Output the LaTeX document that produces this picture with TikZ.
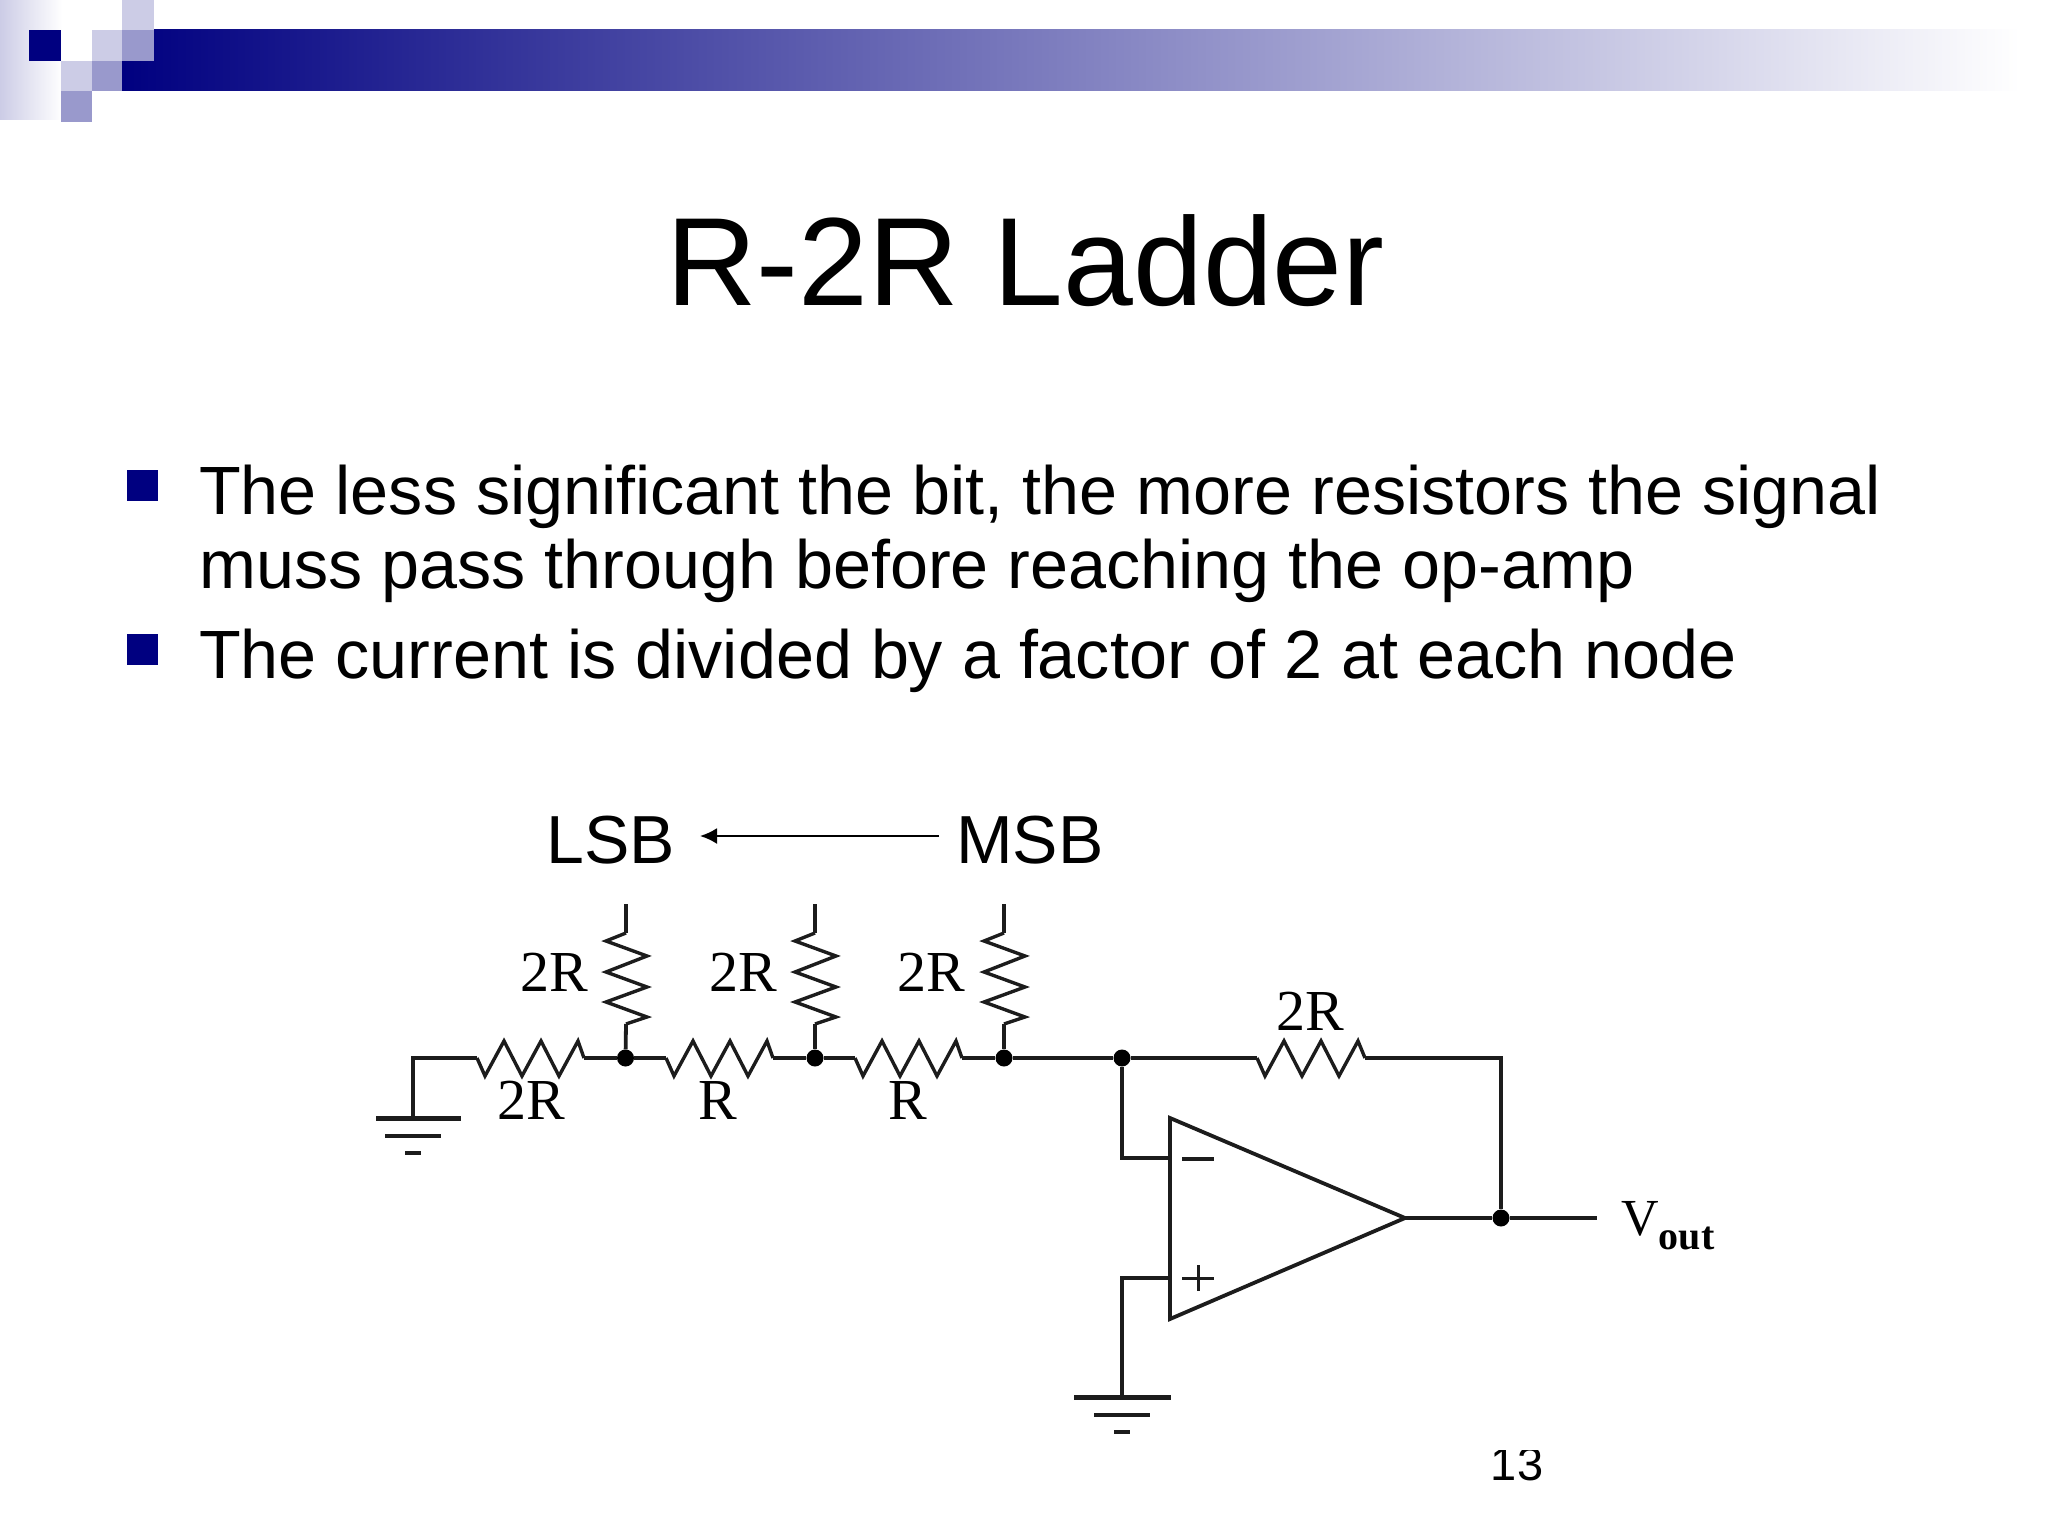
\documentclass[tikz,border=0pt]{standalone}
\usepackage{fontspec}
\setmainfont{Liberation Sans}
\newfontfamily\circfont{Liberation Serif}
\usetikzlibrary{arrows.meta}
\definecolor{navyb}{HTML}{000080}
\definecolor{lightb}{HTML}{CCCCE6}
\definecolor{midb}{HTML}{9999CC}
\definecolor{ink}{HTML}{1C1C1C}
\newcommand{\fsz}[1]{\fontsize{#1}{#1}\selectfont}
\tikzset{
 x=1pt,y=-1pt,
 wire/.style={draw=ink,line width=3.8pt,line join=miter},
 zig/.style={draw=ink,line width=3.4pt,line join=miter},
 junction/.style={circle,fill=black,inner sep=0pt,minimum size=17pt},
 titletext/.style={anchor=base,inner sep=0pt,font=\fsz{125.5}},
 bodytext/.style={anchor=base west,inner sep=0pt,font=\fsz{68.3}},
 tagtext/.style={anchor=base,inner sep=0pt,font=\fsz{68}},
 circlabel/.style={anchor=base,inner sep=0pt,font=\circfont\fsz{58}},
 bulletbox/.style={fill=navyb,inner sep=0pt,minimum size=31pt},
}
\newcommand{\hres}[2]{\draw[zig] (#1) -- ++(8,18) -- ++(19,-35) -- ++(18,35) -- ++(19,-35) -- ++(18,35) -- ++(19,-35) -- (#2);}
\newcommand{\vres}[2]{\draw[zig] (#1) -- ++(-20,8) -- ++(41,15) -- ++(-41,16) -- ++(41,15) -- ++(-41,15) -- ++(41,15) -- (#2);}
\newcommand{\gnd}[5]{% centre, left and right half widths of the bars
 \draw[draw=ink,line width=5pt] ([xshift=-#2pt]#1) -- ([xshift=#3pt]#1);
 \draw[draw=ink,line width=3.6pt] ([xshift=-#4pt,yshift=-18pt]#1) -- ([xshift=#4pt,yshift=-18pt]#1);
 \draw[draw=ink,line width=3.6pt] ([xshift=-#5pt,yshift=-35pt]#1) -- ([xshift=#5pt,yshift=-35pt]#1);}
\begin{document}
\begin{tikzpicture}
\useasboundingbox (0,0) rectangle (2048,1536);
\fill[white] (0,0) rectangle (2048,1536);
% header
\shade[left color=lightb,right color=white] (0,0) rectangle (62,120);
\shade[left color=navyb,right color=white] (122,30) rectangle (2020,91);
\fill[navyb] (29,30) rectangle (61,61);
\fill[lightb] (122,0) rectangle (154,30);
\fill[lightb] (92,30) rectangle (122,61);
\fill[midb] (122,30) rectangle (154,61);
\fill[lightb] (61,61) rectangle (92,91);
\fill[midb] (92,61) rectangle (122,91);
\fill[midb] (61,91) rectangle (92,122);
% title
\node[titletext] (title) at (1025.5,305) {R-2R Ladder};
% bullets
\node[bulletbox] (b1) at (142.5,485) {};
\node[bulletbox] (b2) at (142.5,649) {};
\node[bodytext] (l1) at (199,514) {The less significant the bit, the more resistors the signal};
\node[bodytext] (l2) at (199,588) {muss pass through before reaching the op-amp};
\node[bodytext] (l3) at (199,678) {The current is divided by a factor of 2 at each node};
% LSB MSB
\node[tagtext] (lsb) at (610.5,863) {LSB};
\node[tagtext] (msb) at (1030,863) {MSB};
\coordinate (arS) at (939,836);
\coordinate (arE) at (700,836);
\draw[draw=black,line width=2.2pt,-{Latex[length=17pt,width=16pt]}] (arS) -- (arE);
% junctions and wire points
\coordinate (g1) at (413,1118);
\coordinate (c1) at (413,1058);
\coordinate (r1a) at (477,1058); \coordinate (r1b) at (584,1058);
\coordinate (r2a) at (666,1058); \coordinate (r2b) at (773,1058);
\coordinate (r3a) at (855,1058); \coordinate (r3b) at (962,1058);
\coordinate (r4a) at (1257,1058); \coordinate (r4b) at (1365,1058);
\node[junction] (j1) at (625.5,1058) {};
\node[junction] (j2) at (815,1058) {};
\node[junction] (j3) at (1004,1058) {};
\node[junction] (j4) at (1122,1058) {};
\coordinate (c2) at (1501,1058);
\node[junction] (j5) at (1501,1218) {};
\coordinate (oT) at (1170,1118);
\coordinate (oB) at (1170,1319);
\coordinate (oA) at (1405,1218);
\coordinate (om) at (1170,1158);
\coordinate (op) at (1170,1278);
\coordinate (g2) at (1122,1397);
\coordinate (vout) at (1597,1218);
% horizontal wire
\draw[wire] (g1) -- (c1) -- (r1a);
\hres{r1a}{r1b}
\draw[wire] (r1b) -- (j1) -- (r2a);
\hres{r2a}{r2b}
\draw[wire] (r2b) -- (j2) -- (r3a);
\hres{r3a}{r3b}
\draw[wire] (r3b) -- (j3) -- (j4) -- (r4a);
\hres{r4a}{r4b}
\draw[wire] (r4b) -- (c2) -- (j5);
% vertical branches
\foreach \j/\xx in {j1/626,j2/815,j3/1004}{
 \coordinate (t\j) at (\xx,904);
 \coordinate (a\j) at (\xx,933);
 \coordinate (b\j) at (\xx,1024);
 \draw[wire] (t\j) -- (a\j);
 \vres{a\j}{b\j}
 \draw[wire] (b\j) -- (\j);
}
% op-amp
\draw[draw=ink,line width=3.8pt,line join=miter] (oT) -- (oA) -- (oB) -- cycle;
\draw[wire] (j4) |- (om);
\draw[wire] (g2) |- (op);
\draw[wire] (oA) -- (j5) -- (vout);
\draw[draw=ink,line width=3.6pt] (1182,1159) -- (1214,1159);
\draw[draw=ink,line width=3pt] (1182,1278) -- (1214,1278) (1198,1265) -- (1198,1291);
% grounds
\gnd{g1}{37}{48}{28}{8}
\gnd{g2}{48}{49}{28}{8}
% labels
\node[circlabel] (la) at (554,991) {2R};
\node[circlabel] (lb) at (743,991) {2R};
\node[circlabel] (lc) at (931,991) {2R};
\node[circlabel] (ld) at (531,1119) {2R};
\node[circlabel] (le) at (718,1119) {R};
\node[circlabel] (lf) at (908,1119) {R};
\node[circlabel] (lg) at (1310,1030) {2R};
\node[anchor=base west,inner sep=0pt,font=\circfont\fsz{52}] (lv) at (1621,1235) {V\raisebox{-14pt}{\fsz{40}\textbf{out}}};
% page number
\node[anchor=base,inner sep=0pt,font=\fsz{47}] (pn) at (1517,1480) {13};
\fill[white] (1490,1436) rectangle (1545,1450);
\end{tikzpicture}
\end{document}
